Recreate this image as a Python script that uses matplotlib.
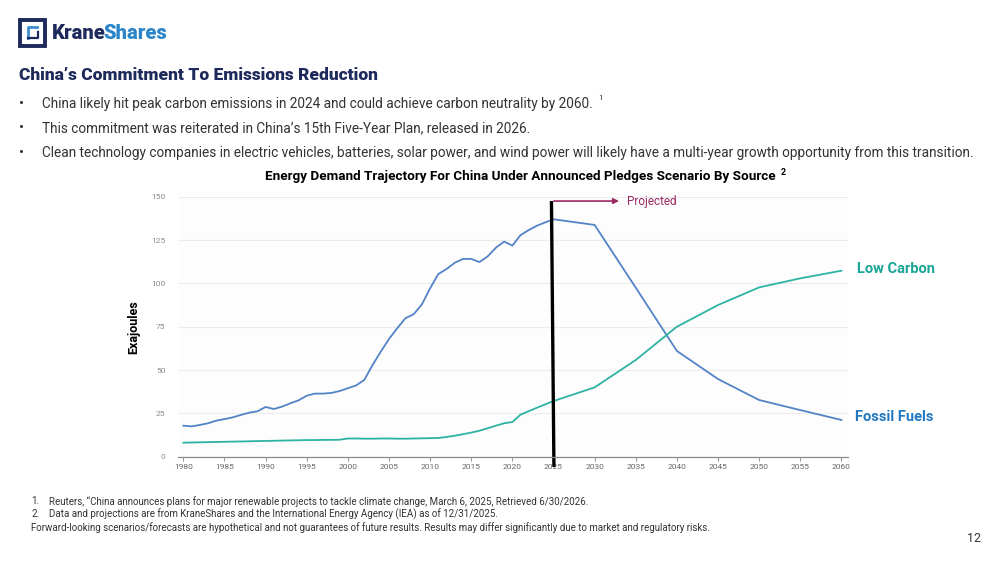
import matplotlib
matplotlib.use("Agg")
import matplotlib.pyplot as plt
from matplotlib.patches import Rectangle
from matplotlib.lines import Line2D

plt.rcParams["font.family"] = ["Roboto", "DejaVu Sans"]

# ---- data ----
hist_years = list(range(1980, 2026))
proj_years = [2030, 2035, 2040, 2045, 2050, 2055, 2060]
years = hist_years + proj_years

fossil_fuels = [
    17.9, 17.5, 18.3, 19.3, 20.8, 21.7, 22.7, 24.1, 25.4, 26.2,
    28.7, 27.5, 28.9, 30.8, 32.5, 35.2, 36.4, 36.4, 36.8, 37.9,
    39.5, 41.1, 44.3, 52.9, 60.6, 67.9, 74.1, 79.9, 82.2, 87.9,
    97.2, 105.4, 108.3, 111.9, 114.1, 114.1, 112.3, 115.6, 120.6, 124.1,
    121.8, 127.9, 130.8, 133.3, 135.2, 137.0,
    133.7, 97.5, 61.0, 44.8, 32.7, 26.9, 21.2,
]
low_carbon = [
    8.1, 8.2, 8.3, 8.4, 8.5, 8.6, 8.7, 8.8, 8.9, 9.0,
    9.1, 9.2, 9.3, 9.4, 9.5, 9.6, 9.6, 9.7, 9.7, 9.8,
    10.5, 10.5, 10.4, 10.4, 10.5, 10.5, 10.4, 10.4, 10.5, 10.6,
    10.7, 10.8, 11.4, 12.1, 13.0, 13.9, 15.0, 16.4, 17.9, 19.3,
    20.0, 24.3, 26.3, 28.3, 30.2, 32.1,
    40.0, 55.8, 75.0, 87.5, 97.7, 102.9, 107.3,
]
x_ticks = list(range(1980, 2061, 5))
y_ticks = [0, 25, 50, 75, 100, 125, 150]
projection_start = 2025

NAVY = "#1f2a5c"
BLUE_LINE = "#5383c6"
TEAL_LINE = "#2db3a2"
BLUE_TXT = "#1f78c1"
TEAL_TXT = "#17a596"
MAROON = "#9c2a62"
GREY_TXT = "#333333"

fig = plt.figure(figsize=(10, 5.63), dpi=100)
fig.patch.set_facecolor("white")

# ---- logo ----
fig.patches.append(Rectangle((0.020, 0.918), 0.025, 0.046, transform=fig.transFigure,
                             fill=False, edgecolor=NAVY, linewidth=2.8))
fig.lines.append(Line2D([0.0275, 0.0275, 0.037], [0.932, 0.952, 0.952], transform=fig.transFigure,
                        color="#3b8fd0", linewidth=2.0))
fig.lines.append(Line2D([0.0275, 0.0375, 0.0375], [0.932, 0.932, 0.944], transform=fig.transFigure,
                        color=NAVY, linewidth=1.6))
fig.text(0.052, 0.941, "Krane", color=NAVY, fontsize=14.5, fontweight="heavy", va="center")
fig.text(0.1035, 0.941, "Shares", color="#2b86c9", fontsize=14.5, fontweight="heavy", va="center")

# ---- headline and bullets ----
fig.text(0.019, 0.867, "China\u2019s Commitment To Emissions Reduction", color=NAVY,
         fontsize=12.5, fontweight="heavy", va="center")
bullets = [
    "China likely hit peak carbon emissions in 2024 and could achieve carbon neutrality by 2060.",
    "This commitment was reiterated in China\u2019s 15th Five-Year Plan, released in 2026.",
    "Clean technology companies in electric vehicles, batteries, solar power, and wind power will likely have a multi-year growth opportunity from this transition.",
]
for i, b in enumerate(bullets):
    yy = 0.816 - i * 0.0438
    fig.text(0.019, yy, "\u2022", color=GREY_TXT, fontsize=11, va="center")
    fig.text(0.042, yy, b, color=GREY_TXT, fontsize=9.8, va="center")
fig.text(0.598, 0.826, "1", color=GREY_TXT, fontsize=6, va="center")

fig.text(0.52, 0.686, "Energy Demand Trajectory For China Under Announced Pledges Scenario By Source",
         color="black", fontsize=9.7, fontweight="bold", ha="center", va="center")
fig.text(0.781, 0.693, "2", color="black", fontsize=6.5, fontweight="bold", va="center")

# ---- chart ----
ax = fig.add_axes([0.178, 0.1888, 0.67, 0.4618])
ax.set_facecolor("#fdfdfd")
ax.plot(years, fossil_fuels, color=BLUE_LINE, linewidth=1.3)
ax.plot(years, low_carbon, color=TEAL_LINE, linewidth=1.3)

ax.set_xlim(1979.35, 2060.8)
ax.set_ylim(0, 150)
ax.set_xticks(x_ticks)
ax.set_yticks(y_ticks)
ax.tick_params(axis="x", colors="#9a9a9a", labelsize=6, length=3, width=0.8,
               labelcolor="#666666", pad=2)
ax.tick_params(axis="y", length=0, labelsize=6, labelcolor="#8c8c8c", pad=9)
ax.grid(axis="y", color="#ececec", linewidth=0.8)
ax.set_axisbelow(True)
for side in ["top", "right", "left"]:
    ax.spines[side].set_visible(False)
ax.spines["bottom"].set_color("#8a8a8a")
ax.spines["bottom"].set_linewidth(0.9)

ax.set_ylabel("Exajoules", fontsize=9, fontweight="bold", color="black", labelpad=8)

# projection marker
ax.plot([projection_start - 0.25, projection_start + 0.05], [147.5, -5.9], color="black",
        linewidth=2.4, clip_on=False, solid_capstyle="butt")
ax.annotate("", xy=(projection_start + 8.3, 147.5), xytext=(projection_start - 0.3, 147.5),
            arrowprops=dict(arrowstyle="-|>", color=MAROON, lw=1.2, mutation_scale=8),
            annotation_clip=False)
ax.text(projection_start + 8.9, 147.3, "Projected", color=MAROON, fontsize=8.5,
        va="center", ha="left")

ax.text(2061.9, 108.5, "Low Carbon", color=TEAL_TXT, fontsize=10.5, fontweight="bold",
        va="center", ha="left", clip_on=False)
ax.text(2061.6, 22.8, "Fossil Fuels", color=BLUE_TXT, fontsize=10.5, fontweight="bold",
        va="center", ha="left", clip_on=False)

# ---- footnotes ----
notes = [
    ("1.", "Reuters, \u201cChina announces plans for major renewable projects to tackle climate change, March 6, 2025, Retrieved 6/30/2026."),
    ("2.", "Data and projections are from KraneShares and the International Energy Agency (IEA) as of 12/31/2025."),
]
for i, (n, txt) in enumerate(notes):
    yy = 0.110 - i * 0.0235
    fig.text(0.031, yy, n, color=GREY_TXT, fontsize=7, va="center")
    fig.text(0.049, yy, txt, color=GREY_TXT, fontsize=7, va="center")
fig.text(0.031, 0.063, "Forward-looking scenarios/forecasts are hypothetical and not guarantees of future results. "
         "Results may differ significantly due to market and regulatory risks.",
         color=GREY_TXT, fontsize=7, va="center")
fig.text(0.981, 0.044, "12", color=GREY_TXT, fontsize=9, ha="right", va="center")

fig.savefig("out.png", dpi=100)
